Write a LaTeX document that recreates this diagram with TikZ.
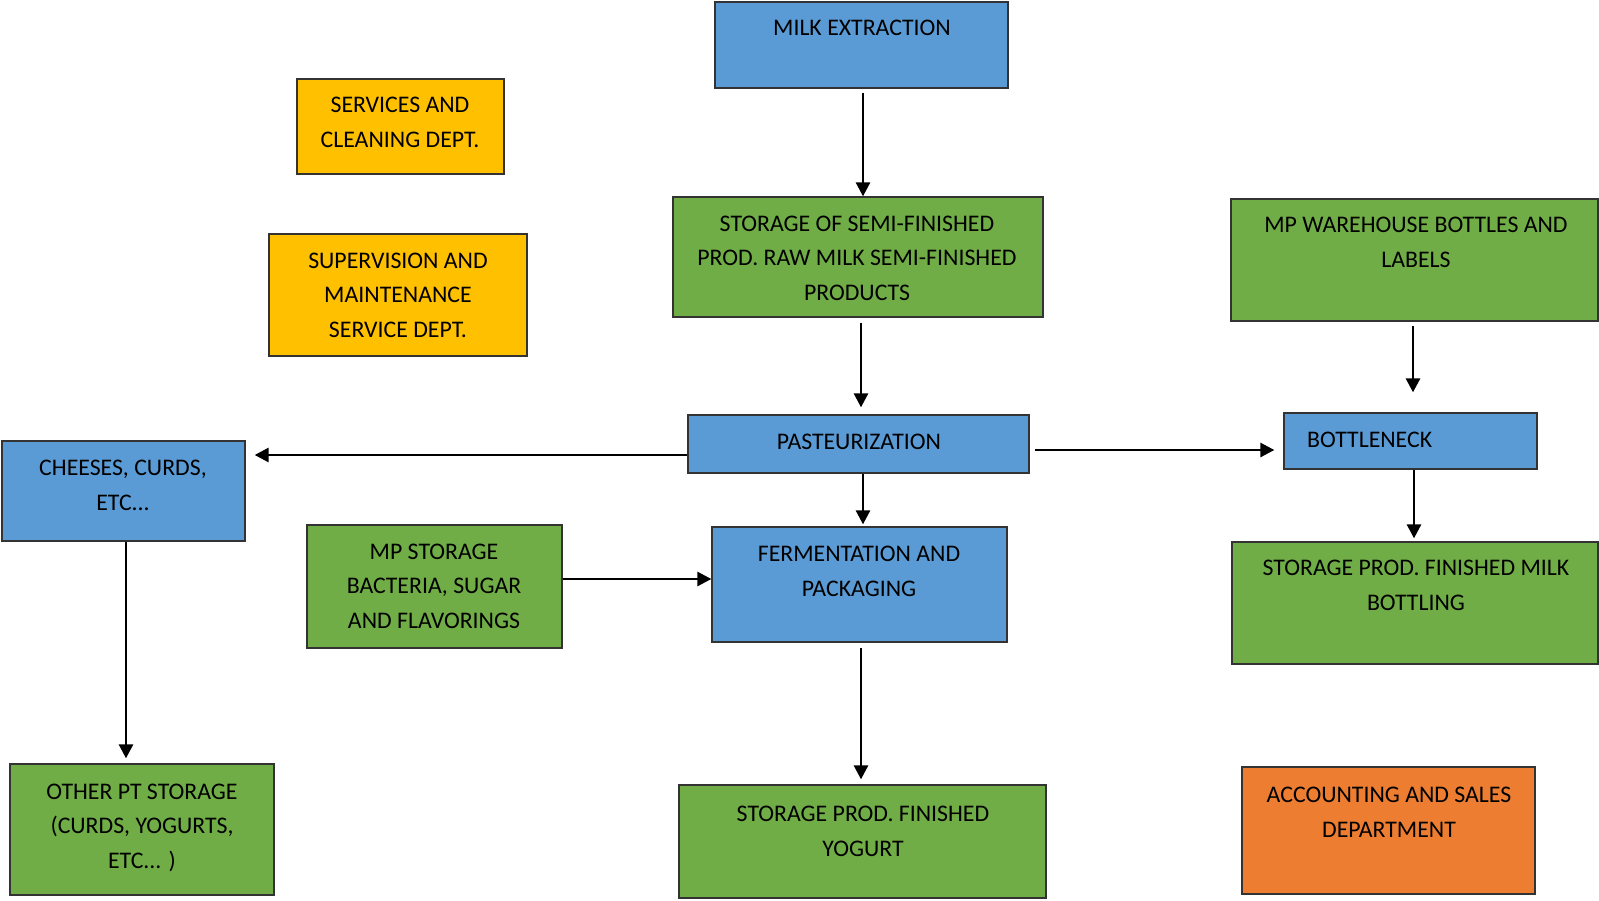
\documentclass[tikz,border=0pt]{standalone}
\usepackage{fontspec}
\setmainfont{Carlito}
\usetikzlibrary{arrows.meta}
\definecolor{cblue}{HTML}{5B9BD5}
\definecolor{cgreen}{HTML}{70AD47}
\definecolor{cyellow}{HTML}{FFC000}
\definecolor{corange}{HTML}{ED7D31}
\tikzset{
  box/.style={draw=black!80, line width=1.3pt, rectangle, inner sep=0pt},
  bluebox/.style={box, fill=cblue},
  greenbox/.style={box, fill=cgreen},
  yellowbox/.style={box, fill=cyellow},
  orangebox/.style={box, fill=corange},
  txt/.style={anchor=base, align=center, inner sep=0pt, text=black, font={\fontsize{23.8}{34.5}\selectfont}},
  arr/.style={line width=2.7pt, -{Triangle[width=14pt,length=14pt]}}
}
\begin{document}
\begin{tikzpicture}[x=1pt,y=-1pt]
\useasboundingbox (0,0) rectangle (1599,900);
% boxes
\node[bluebox, minimum width=293pt, minimum height=86pt] (milk) at (861.5,45) {};
\node[greenbox, minimum width=370pt, minimum height=120pt] (storage) at (858,257) {};
\node[yellowbox, minimum width=207pt, minimum height=95pt] (services) at (400.5,126.5) {};
\node[yellowbox, minimum width=258pt, minimum height=122pt] (supervision) at (398,295) {};
\node[bluebox, minimum width=341pt, minimum height=58pt] (past) at (858.5,444) {};
\node[bluebox, minimum width=243pt, minimum height=100pt] (cheeses) at (123.5,491) {};
\node[greenbox, minimum width=255pt, minimum height=123pt] (mpstorage) at (434.5,586.5) {};
\node[bluebox, minimum width=295pt, minimum height=115pt] (ferm) at (859.5,584.5) {};
\node[greenbox, minimum width=264pt, minimum height=131pt] (other) at (142,829.5) {};
\node[greenbox, minimum width=367pt, minimum height=113pt] (yogurt) at (862.5,841.5) {};
\node[greenbox, minimum width=367pt, minimum height=122pt] (warehouse) at (1414.5,260) {};
\node[bluebox, minimum width=253pt, minimum height=56pt] (bottleneck) at (1410.5,441) {};
\node[greenbox, minimum width=366pt, minimum height=122pt] (milkstore) at (1415,603) {};
\node[orangebox, minimum width=293pt, minimum height=127pt] (accounting) at (1388.5,830.5) {};
% texts (base anchor = baseline of the last line)
\node[txt] (tmilk) at (862,35) {MILK EXTRACTION};
\node[txt] (tstorage) at (857,300) {STORAGE OF SEMI-FINISHED\\PROD. RAW MILK SEMI-FINISHED\\PRODUCTS};
\node[txt] (tservices) at (400,147) {SERVICES AND\\CLEANING DEPT.};
\node[txt] (tsupervision) at (398,337) {SUPERVISION AND\\MAINTENANCE\\SERVICE DEPT.};
\node[txt] (tpast) at (859,449) {PASTEURIZATION};
\node[txt] (tcheeses) at (123,510) {CHEESES, CURDS,\\ETC...};
\node[txt] (tmpstorage) at (434,628) {MP STORAGE\\BACTERIA, SUGAR\\AND FLAVORINGS};
\node[txt] (tother) at (142,868) {OTHER PT STORAGE\\(CURDS, YOGURTS,\\ETC... )};
\node[txt] (tferm) at (859,596) {FERMENTATION AND\\PACKAGING};
\node[txt] (tyogurt) at (863,856) {STORAGE PROD. FINISHED\\YOGURT};
\node[txt] (twarehouse) at (1416,267) {MP WAREHOUSE BOTTLES AND\\LABELS};
\node[txt, anchor=base west] (tbottleneck) at (1307,447) {BOTTLENECK};
\node[txt] (tmilkstore) at (1416,610) {STORAGE PROD. FINISHED MILK\\BOTTLING};
\node[txt] (taccounting) at (1389,837) {ACCOUNTING AND SALES\\DEPARTMENT};
% arrows
\draw[arr, shorten <=4pt] ([xshift=1.5pt]milk.south) -- ([xshift=1.5pt]milk.south |- storage.north);
\draw[arr, shorten <=5pt, shorten >=7pt] ([xshift=3pt]storage.south) -- ([xshift=3pt]storage.south |- past.north);
\draw[arr, shorten >=2pt] ([xshift=4.5pt]past.south) -- ([xshift=4.5pt]past.south |- ferm.north);
\draw[arr, shorten <=5pt, shorten >=5pt] ([xshift=1.5pt]ferm.south) -- ([xshift=1.5pt]ferm.south |- yogurt.north);
\draw[arr, shorten >=9pt] ([yshift=-11pt]past.west) -- ([yshift=-11pt]past.west -| cheeses.east);
\draw[arr, shorten >=5pt] ([xshift=2.5pt]cheeses.south) -- ([xshift=2.5pt]cheeses.south |- other.north);
\draw[arr] ([yshift=7.5pt]mpstorage.east) -- ([yshift=7.5pt]mpstorage.east -| ferm.west);
\draw[arr, shorten <=5pt, shorten >=9pt] ([yshift=-6pt]past.east) -- ([yshift=-6pt]past.east -| bottleneck.west);
\draw[arr, shorten <=4pt, shorten >=20pt] ([xshift=-1.5pt]warehouse.south) -- ([xshift=-1.5pt]warehouse.south |- bottleneck.north);
\draw[arr, shorten >=3pt] ([xshift=3.5pt]bottleneck.south) -- ([xshift=3.5pt]bottleneck.south |- milkstore.north);
\end{tikzpicture}
\end{document}
